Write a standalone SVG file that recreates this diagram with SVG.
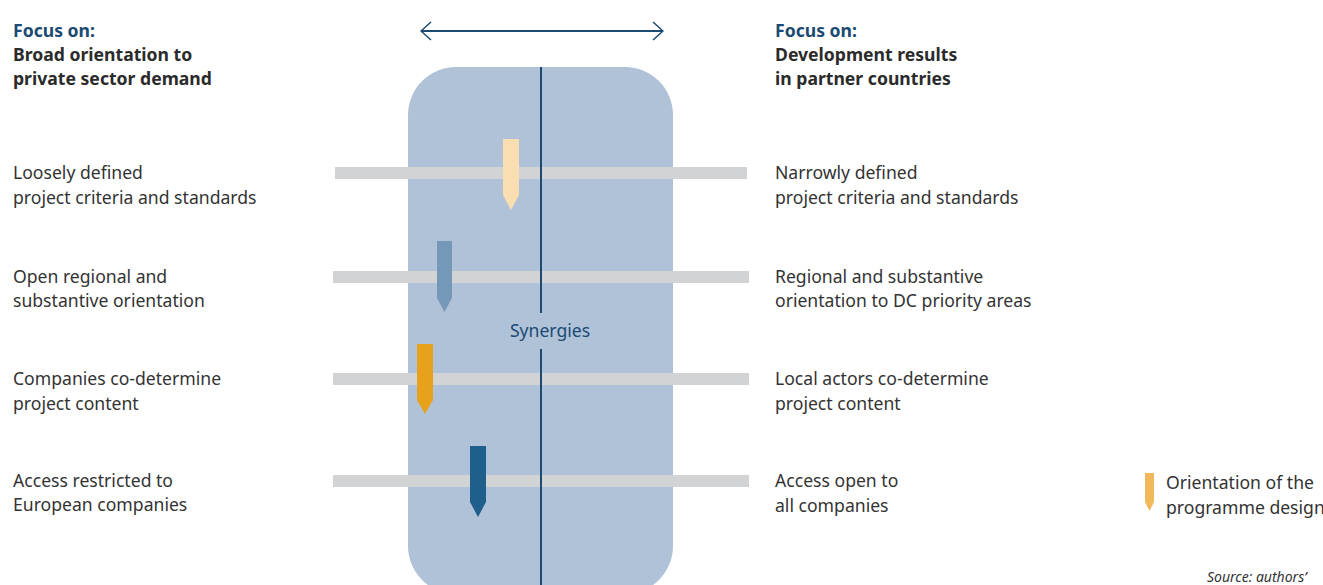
<svg xmlns="http://www.w3.org/2000/svg" width="1323" height="585" viewBox="0 0 1323 585">
<style>
  text { font-family: "Noto Sans", "Open Sans", sans-serif; font-size: 17.6px; fill: #333333; }
  .focus { font-weight: bold; fill: #1b4a72; }
  .head { font-weight: bold; fill: #2b2b2b; }
  .syn { fill: #1b4a72; }
  .src { font-style: italic; font-size: 14px; fill: #333333; }
  .bar { fill: #d2d3d5; }
  .axis { stroke: #1b4a72; stroke-width: 2; fill: none; }
</style>
<defs>
  <marker id="chev" viewBox="0 0 12 20" refX="11" refY="10" markerWidth="12" markerHeight="20" markerUnits="userSpaceOnUse" orient="auto-start-reverse">
    <path d="M1,1 L11,10 L1,19" fill="none" stroke="#1b4a72" stroke-width="1.5"/>
  </marker>
</defs>
<rect x="0" y="0" width="1323" height="585" fill="#ffffff"/>

<g id="synergy-zone">
  <rect x="408" y="67" width="265" height="527" rx="48" ry="48" fill="#afc2d8"/>
</g>

<g id="bars">
  <rect class="bar" x="335" y="167" width="412" height="12"/>
  <rect class="bar" x="333" y="271" width="416" height="12"/>
  <rect class="bar" x="333" y="373" width="416" height="12"/>
  <rect class="bar" x="333" y="475" width="416" height="12"/>
</g>

<g id="connectors">
  <line class="axis" x1="421" y1="31" x2="663" y2="31" marker-start="url(#chev)" marker-end="url(#chev)" stroke-width="1.6"/>
  <line class="axis" x1="541" y1="67" x2="541" y2="313"/>
  <line class="axis" x1="541" y1="349" x2="541" y2="585"/>
</g>

<g id="synergies-label">
  <text class="syn" x="550" y="337" text-anchor="middle">Synergies</text>
</g>

<g id="marker-1">
  <path d="M503,139 H519 V195 L511,210 L503,195 Z" fill="#f8deb1"/>
</g>
<g id="marker-2">
  <path d="M437,241 H452 V298 L444.5,312 L437,298 Z" fill="#7598b9"/>
</g>
<g id="marker-3">
  <path d="M417,344 H433 V400 L425,414 L417,400 Z" fill="#e8a11a"/>
</g>
<g id="marker-4">
  <path d="M470,446 H486 V502 L478,517 L470,502 Z" fill="#1f5f8b"/>
</g>

<g id="left-heading">
  <text class="focus" x="13" y="37">Focus on:</text>
  <text class="head" x="13" y="61">Broad orientation to</text>
  <text class="head" x="13" y="85">private sector demand</text>
</g>
<g id="right-heading">
  <text class="focus" x="775" y="37">Focus on:</text>
  <text class="head" x="775" y="61">Development results</text>
  <text class="head" x="775" y="85">in partner countries</text>
</g>

<g id="left-1">
  <text x="13" y="179">Loosely defined</text>
  <text x="13" y="204">project criteria and standards</text>
</g>
<g id="left-2">
  <text x="13" y="283">Open regional and</text>
  <text x="13" y="307">substantive orientation</text>
</g>
<g id="left-3">
  <text x="13" y="385">Companies co-determine</text>
  <text x="13" y="410">project content</text>
</g>
<g id="left-4">
  <text x="13" y="487">Access restricted to</text>
  <text x="13" y="511">European companies</text>
</g>

<g id="right-1">
  <text x="775" y="179">Narrowly defined</text>
  <text x="775" y="204">project criteria and standards</text>
</g>
<g id="right-2">
  <text x="775" y="283">Regional and substantive</text>
  <text x="775" y="307">orientation to DC priority areas</text>
</g>
<g id="right-3">
  <text x="775" y="385">Local actors co-determine</text>
  <text x="775" y="410">project content</text>
</g>
<g id="right-4">
  <text x="775" y="487">Access open to</text>
  <text x="775" y="512">all companies</text>
</g>

<g id="legend">
  <path d="M1145,473 H1154 V502 L1149.5,511 L1145,502 Z" fill="#f1b85c"/>
  <text x="1166" y="489">Orientation of the</text>
  <text x="1166" y="514">programme design</text>
</g>

<g id="source">
  <text class="src" x="1207" y="582">Source: authors’</text>
</g>
</svg>
